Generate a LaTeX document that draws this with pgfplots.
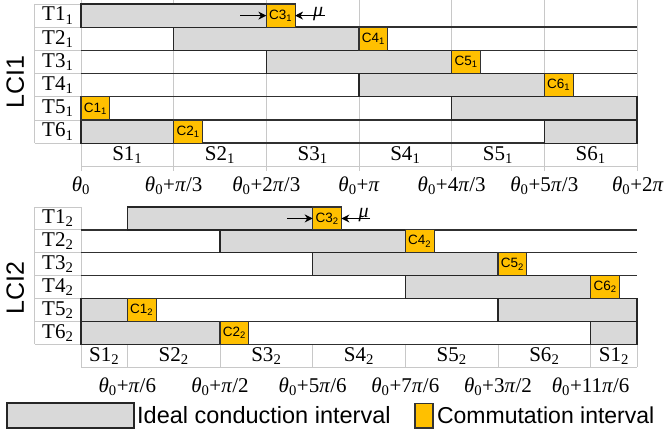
\documentclass[border=0pt]{standalone}
\usepackage{fontspec}
\setmainfont{Liberation Serif}
\setsansfont{Liberation Sans}
\usepackage{pgfplots}
\pgfplotsset{compat=1.18}
\usetikzlibrary{arrows.meta}
\definecolor{condgray}{HTML}{D9D9D9}
\definecolor{commy}{HTML}{FFC000}
\definecolor{gridc}{HTML}{C8C8C8}
\definecolor{rowc}{HTML}{303030}
\newcommand\fs[1]{\fontsize{#1}{#1}\selectfont}
\newcommand\thz[1]{\textit{θ}\textsubscript{0}#1}
\newcommand\tp{\textit{π}}
\pgfplotsset{
  lciaxis/.style={scale only axis, width=556pt, xmin=0, xmax=6, ymin=0, ymax=7,
    y dir=reverse, hide axis, clip=false, anchor=north west},
  gl/.style={draw=gridc, line width=0.9pt, forget plot, mark=none},
  rl/.style={draw=rowc, line width=1.4pt, forget plot, mark=none},
  cond/.style={fill=condgray, draw=black!85, line width=1.3pt, forget plot, mark=none},
  comm/.style={fill=commy, draw=black!80, line width=1.1pt, forget plot, mark=none},
  arr/.style={draw=black, line width=1pt, forget plot, mark=none, -{Stealth[length=8pt,width=8pt]}},
}
% rectangle: style, x1, x2, y1, y2
\newcommand\rect[5]{\addplot[#1] coordinates {(#2,#4) (#3,#4) (#3,#5) (#2,#5)} -- cycle;}
% commutation box: x, row, label
\newcommand\cbox[3]{\rect{comm}{#1}{#1+0.31}{#2-1}{#2}
  \node[font=\sffamily\fs{13.5}, inner sep=0pt] at (axis cs:#1+0.155,#2-0.5) {#3};}
\begin{document}
\begin{tikzpicture}
\useasboundingbox (0pt,0pt) rectangle (664pt,-435pt);
%================ LCI1 ================
\begin{axis}[lciaxis, height=162.4pt, at={(81pt,-4pt)}]
% light grid
\pgfplotsinvokeforeach{0,1,2,3,4,5,6}{\addplot[gl] coordinates {(#1,-0.17) (#1,7.2)};}
\pgfplotsinvokeforeach{0,1,2,3,4,5,6}{\addplot[gl] coordinates {(-0.5,#1) (0,#1)};}
\addplot[gl] coordinates {(-0.5,0) (-0.5,6)};
\addplot[gl] coordinates {(0,7) (6,7)};
% row lines
\pgfplotsinvokeforeach{1,2,3,4,5,6}{\addplot[rl] coordinates {(0,#1) (6,#1)};}
% ideal conduction intervals
\rect{cond}{0}{2}{0}{1}
\rect{cond}{1}{3}{1}{2}
\rect{cond}{2}{4}{2}{3}
\rect{cond}{3}{5}{3}{4}
\rect{cond}{4}{6}{4}{5}
\rect{cond}{0}{1}{5}{6}
\rect{cond}{5}{6}{5}{6}
% commutation intervals
\cbox{2}{1}{C3\textsubscript{1}}
\cbox{3}{2}{C4\textsubscript{1}}
\cbox{4}{3}{C5\textsubscript{1}}
\cbox{5}{4}{C6\textsubscript{1}}
\cbox{0}{5}{C1\textsubscript{1}}
\cbox{1}{6}{C2\textsubscript{1}}
% mu arrows
\addplot[arr] coordinates {(1.716,0.5) (2,0.5)};
\addplot[arr] coordinates {(2.633,0.5) (2.31,0.5)};
\node[font=\fs{20}, anchor=base, inner sep=0pt] at (axis cs:2.56,0.52) {\textit{μ}};
% row labels
\node[font=\fs{21}] at (axis cs:-0.25,0.5) {T1\textsubscript{1}};
\node[font=\fs{21}] at (axis cs:-0.25,1.5) {T2\textsubscript{1}};
\node[font=\fs{21}] at (axis cs:-0.25,2.5) {T3\textsubscript{1}};
\node[font=\fs{21}] at (axis cs:-0.25,3.5) {T4\textsubscript{1}};
\node[font=\fs{21}] at (axis cs:-0.25,4.5) {T5\textsubscript{1}};
\node[font=\fs{21}] at (axis cs:-0.25,5.5) {T6\textsubscript{1}};
% sectors
\node[font=\fs{21}] at (axis cs:0.5,6.5) {S1\textsubscript{1}};
\node[font=\fs{21}] at (axis cs:1.5,6.5) {S2\textsubscript{1}};
\node[font=\fs{21}] at (axis cs:2.5,6.5) {S3\textsubscript{1}};
\node[font=\fs{21}] at (axis cs:3.5,6.5) {S4\textsubscript{1}};
\node[font=\fs{21}] at (axis cs:4.5,6.5) {S5\textsubscript{1}};
\node[font=\fs{21}] at (axis cs:5.5,6.5) {S6\textsubscript{1}};
% angle labels
\node[font=\fs{21}] at (axis cs:0,7.84) {\thz{}};
\node[font=\fs{21}] at (axis cs:1,7.84) {\thz{+\tp/3}};
\node[font=\fs{21}] at (axis cs:2,7.84) {\thz{+2\tp/3}};
\node[font=\fs{21}] at (axis cs:3,7.84) {\thz{+\tp}};
\node[font=\fs{21}] at (axis cs:4,7.84) {\thz{+4\tp/3}};
\node[font=\fs{21}] at (axis cs:5,7.84) {\thz{+5\tp/3}};
\node[font=\fs{21}, anchor=east, inner sep=0pt] at (axis cs:6.29,7.84) {\thz{+2\tp}};
\node[font=\sffamily\fs{25}, rotate=90] at (axis cs:-0.71,3.35) {LCI1};
\end{axis}
%================ LCI2 ================
\begin{axis}[lciaxis, height=160.3pt, at={(81pt,-207pt)}]
\pgfplotsinvokeforeach{0,0.5,1.5,2.5,3.5,4.5,5.5,6}{\addplot[gl] coordinates {(#1,6) (#1,7)};}
\pgfplotsinvokeforeach{0,1,2,3,4,5,6}{\addplot[gl] coordinates {(-0.5,#1) (0,#1)};}
\addplot[gl] coordinates {(-0.5,0) (-0.5,6)};
\addplot[gl] coordinates {(0,0) (0,6)};
\addplot[gl] coordinates {(0,7) (6,7)};
\pgfplotsinvokeforeach{1,2,3,4,5,6}{\addplot[rl] coordinates {(0,#1) (6,#1)};}
% ideal conduction intervals
\rect{cond}{0.5}{2.5}{0}{1}
\rect{cond}{1.5}{3.5}{1}{2}
\rect{cond}{2.5}{4.5}{2}{3}
\rect{cond}{3.5}{5.5}{3}{4}
\rect{cond}{0}{0.5}{4}{5}
\rect{cond}{4.5}{6}{4}{5}
\rect{cond}{0}{1.5}{5}{6}
\rect{cond}{5.5}{6}{5}{6}
% commutation intervals
\cbox{2.5}{1}{C3\textsubscript{2}}
\cbox{3.5}{2}{C4\textsubscript{2}}
\cbox{4.5}{3}{C5\textsubscript{2}}
\cbox{5.5}{4}{C6\textsubscript{2}}
\cbox{0.5}{5}{C1\textsubscript{2}}
\cbox{1.5}{6}{C2\textsubscript{2}}
\addplot[arr] coordinates {(2.223,0.5) (2.5,0.5)};
\addplot[arr] coordinates {(3.12,0.5) (2.81,0.5)};
\node[font=\fs{20}, anchor=base, inner sep=0pt] at (axis cs:3.05,0.45) {\textit{μ}};
\node[font=\fs{21}] at (axis cs:-0.25,0.5) {T1\textsubscript{2}};
\node[font=\fs{21}] at (axis cs:-0.25,1.5) {T2\textsubscript{2}};
\node[font=\fs{21}] at (axis cs:-0.25,2.5) {T3\textsubscript{2}};
\node[font=\fs{21}] at (axis cs:-0.25,3.5) {T4\textsubscript{2}};
\node[font=\fs{21}] at (axis cs:-0.25,4.5) {T5\textsubscript{2}};
\node[font=\fs{21}] at (axis cs:-0.25,5.5) {T6\textsubscript{2}};
\node[font=\fs{21}] at (axis cs:0.25,6.5) {S1\textsubscript{2}};
\node[font=\fs{21}] at (axis cs:1,6.5) {S2\textsubscript{2}};
\node[font=\fs{21}] at (axis cs:2,6.5) {S3\textsubscript{2}};
\node[font=\fs{21}] at (axis cs:3,6.5) {S4\textsubscript{2}};
\node[font=\fs{21}] at (axis cs:4,6.5) {S5\textsubscript{2}};
\node[font=\fs{21}] at (axis cs:5,6.5) {S6\textsubscript{2}};
\node[font=\fs{21}] at (axis cs:5.75,6.5) {S1\textsubscript{2}};
\node[font=\fs{21}] at (axis cs:0.5,7.86) {\thz{+\tp/6}};
\node[font=\fs{21}] at (axis cs:1.5,7.86) {\thz{+\tp/2}};
\node[font=\fs{21}] at (axis cs:2.5,7.86) {\thz{+5\tp/6}};
\node[font=\fs{21}] at (axis cs:3.5,7.86) {\thz{+7\tp/6}};
\node[font=\fs{21}] at (axis cs:4.5,7.86) {\thz{+3\tp/2}};
\node[font=\fs{21}] at (axis cs:5.5,7.86) {\thz{+11\tp/6}};
\node[font=\sffamily\fs{25}, rotate=90] at (axis cs:-0.71,3.55) {LCI2};
% legend
\rect{cond}{-0.799}{0.572}{8.56}{9.65}
\rect{comm}{3.604}{3.799}{8.60}{9.65}
\node[font=\sffamily\fs{23.5}, anchor=west, inner sep=0pt] at (axis cs:0.604,9.1) {Ideal conduction interval};
\node[font=\sffamily\fs{23}, anchor=west, inner sep=0pt] at (axis cs:3.84,9.1) {Commutation interval};
\end{axis}
\end{tikzpicture}
\end{document}
